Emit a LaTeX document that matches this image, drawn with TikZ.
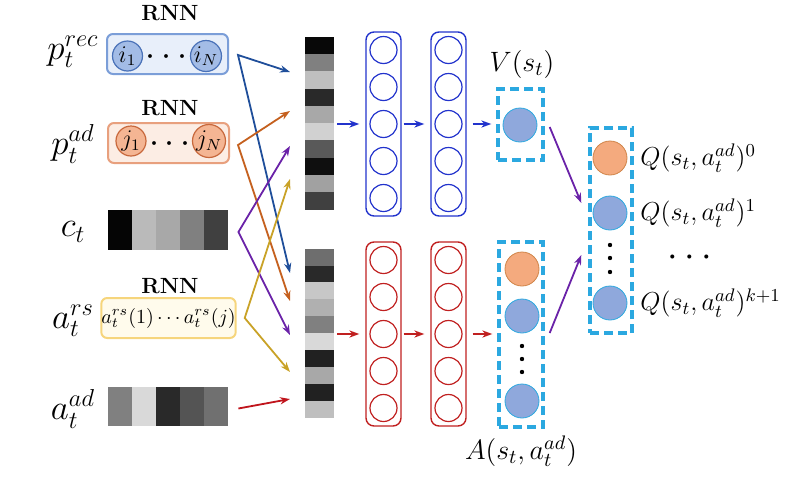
\documentclass[tikz,border=0pt]{standalone}
\usepackage{fix-cm}
\usepackage{xcolor}
\usepackage{tikz}
\usetikzlibrary{calc}
\usetikzlibrary{positioning}
\usetikzlibrary{arrows.meta}
\definecolor{recline}{HTML}{7B9ED8}
\definecolor{recfill}{HTML}{E8EFFA}
\definecolor{recnode}{HTML}{A3BCE6}
\definecolor{recedge}{HTML}{4A72B8}
\definecolor{adline}{HTML}{E8A07E}
\definecolor{adfill}{HTML}{FCEDE4}
\definecolor{adnode}{HTML}{F4B593}
\definecolor{adedge}{HTML}{C8683C}
\definecolor{rsline}{HTML}{F6D57C}
\definecolor{rsfill}{HTML}{FFFBEC}
\definecolor{arrblue}{HTML}{1F4E9A}
\definecolor{arrorange}{HTML}{C5601E}
\definecolor{arrpurple}{HTML}{6A22A8}
\definecolor{arrgold}{HTML}{C9A227}
\definecolor{arrred}{HTML}{C0141C}
\definecolor{netblue}{HTML}{2233CC}
\definecolor{netred}{HTML}{C02020}
\definecolor{dashcyan}{HTML}{2BA8E0}
\definecolor{outblue}{HTML}{8FA8DC}
\definecolor{outorange}{HTML}{F4AA7E}
\definecolor{outedge}{HTML}{D08448}

\begin{document}
\begin{tikzpicture}[x=0.5pt,y=-0.5pt,
    lbl/.style={font=\fontsize{17.5}{20}\selectfont},
    rnn/.style={font=\bfseries\fontsize{11}{13}\selectfont},
    seqbox/.style={draw,rounded corners=3pt,line width=1pt,minimum width=60.5pt,minimum height=20pt,inner sep=0pt},
    unit/.style={circle,draw,line width=0.6pt,minimum size=15pt,inner sep=0pt,font=\fontsize{12}{14}\selectfont},
    bar/.style={inner sep=0pt,minimum width=#1},
    feed/.style={-{Stealth[length=5pt,width=3.6pt]},line width=0.9pt},
    fork/.style={{Stealth[length=5pt,width=3.6pt]}-{Stealth[length=5pt,width=3.6pt]},line width=0.9pt},
    layer/.style={draw,rounded corners=4pt,line width=0.7pt,minimum width=17.5pt,minimum height=92pt},
    neuron/.style={circle,draw,line width=0.6pt,minimum size=13.5pt,inner sep=0pt},
    outbox/.style={draw=dashcyan,line width=1.7pt,dash pattern=on 4.5pt off 2.5pt},
    qval/.style={circle,fill=outblue,draw=dashcyan,line width=0.4pt,minimum size=17pt,inner sep=0pt},
    eq/.style={font=\fontsize{13}{15}\selectfont}]
\useasboundingbox (0,0) rectangle (800,488);

% inputs
\node[lbl] (prec) at (73,52) {$p_t^{rec}$};
\node[lbl] (pad) at (73,144) {$p_t^{ad}$};
\node[lbl] (ct) at (73,232) {$c_t$};
\node[lbl] (ars) at (73,321) {$a_t^{rs}$};
\node[lbl] (aad) at (73,409) {$a_t^{ad}$};

\node[rnn] (rnn1) at (170,13) {RNN};
\node[seqbox,draw=recline,fill=recfill] (recbox) at (167.5,54) {};
\node[unit,draw=recedge,fill=recnode] (i1) at (127.5,56) {$i_1$};
\node[unit,draw=recedge,fill=recnode] (iN) at (206,56) {$i_N$};
\node[font=\fontsize{18}{20}\selectfont] at ($(i1)!0.5!(iN)+(0,1)$) {$\cdots$};

\node[rnn] (rnn2) at (170,108) {RNN};
\node[seqbox,draw=adline,fill=adfill] (padbox) at (168.5,143) {};
\node[unit,draw=adedge,fill=adnode] (j1) at (131,141) {$j_1$};
\node[unit,draw=adedge,fill=adnode] (jN) at (209,141) {$j_N$};
\node[font=\fontsize{18}{20}\selectfont] at ($(j1)!0.5!(jN)+(0,3)$) {$\cdots$};

\node[bar=60pt,minimum height=20pt] (cbar) at (168,230) {};
\foreach \g [count=\k from 0] in {98,27,34,50,75}
  \fill[black!\g] ($(cbar.north west)+(24*\k,0)$) rectangle ++(24,40);

\node[rnn] (rnn3) at (170,286) {RNN};
\node[seqbox,draw=rsline,fill=rsfill] (rsbox) at (168.5,318) {$a_t^{rs}(1)\cdots a_t^{rs}(j)$};

\node[bar=60pt,minimum height=19.5pt] (abar) at (168,406.5) {};
\foreach \g [count=\k from 0] in {50,15,84,67,56}
  \fill[black!\g] ($(abar.north west)+(24*\k,0)$) rectangle ++(24,39);

% embeddings
\node[bar=14.5pt,minimum height=86.5pt] (vbar) at (319.5,123.5) {};
\foreach \g [count=\k from 0] in {97,50,25,84,34,18,65,94,37,75}
  \fill[black!\g] ($(vbar.north west)+(0,17.3*\k)$) rectangle ++(29,17.3);
\node[bar=14.5pt,minimum height=84.5pt] (abarv) at (319.5,333.5) {};
\foreach \g [count=\k from 0] in {57,84,22,31,50,15,87,34,87,25}
  \fill[black!\g] ($(abarv.north west)+(0,16.9*\k)$) rectangle ++(29,16.9);

\coordinate (rec-c) at ($(recbox.east)+(9,1)$);
\coordinate (pad-c) at ($(padbox.east)+(8,2)$);
\coordinate (ct-c) at ($(cbar.east)+(10,2)$);
\coordinate (rs-c) at ($(rsbox.east)+(8,0)$);
\coordinate (aad-c) at ($(abar.east)+(10,2)$);
\foreach \y [count=\k] in {72,111,146,179} \coordinate (vin-\k) at (290,\y);
\foreach \y [count=\k] in {273,301,335,372,399} \coordinate (ain-\k) at (290,\y);

\draw[fork,arrblue] (vin-1) -- (rec-c) -- (ain-1);
\draw[fork,arrorange] (vin-2) -- (pad-c) -- (ain-2);
\draw[fork,arrpurple] (vin-3) -- (ct-c) -- (ain-3);
\draw[fork,arrgold] (vin-4) -- (rs-c) -- (ain-4);
\draw[feed,arrred] (aad-c) -- (ain-5);

% hidden layers
\foreach \n/\x/\y/\c in {hv1/383.5/124/netblue,hv2/448.5/124/netblue,ha1/383.5/334/netred,ha2/448.5/334/netred}{
  \node[layer,draw=\c] (\n) at (\x,\y) {};
  \foreach \i in {1,...,5} \node[neuron,draw=\c] (\n-\i) at (\x,\y+37*\i-111) {};
}

% outputs
\node[outbox,minimum width=22.5pt,minimum height=35.5pt] (vbox) at (520.5,124.5) {};
\node[qval] (v) at (520,125) {};
\node[eq,font=\fontsize{14}{16}\selectfont] (vlab) at (522,64) {$V(s_t)$};

\node[outbox,minimum width=22pt,minimum height=92.5pt] (abox) at (521,334.5) {};
\node[qval,fill=outorange,draw=outedge] (adv-0) at (522,269) {};
\node[qval] (adv-1) at (522,316) {};
\node[qval] (adv-k) at (522,401) {};
\foreach \y in {346,359,372} \fill (522,\y) circle (1.1pt);
\node[eq,font=\fontsize{14}{16}\selectfont,below=0pt of abox] (alab) {$A(s_t,a_t^{ad})$};

\node[outbox,minimum width=21pt,minimum height=102.5pt] (qbox) at (611,230.5) {};
\node[qval,fill=outorange,draw=outedge] (q-0) at (610,158) {};
\node[qval] (q-1) at (610,213) {};
\node[qval] (q-k) at (610,303) {};
\foreach \y in {245,258,272} \fill (610,\y) circle (1.1pt);
\node[eq,right=3pt of q-0] (qlab-0) {$Q(s_t,a_t^{ad})^0$};
\node[eq,right=3pt of q-1] (qlab-1) {$Q(s_t,a_t^{ad})^1$};
\node[eq,right=3pt of q-k] (qlab-k) {$Q(s_t,a_t^{ad})^{k+1}$};
\node[font=\fontsize{19}{20}\selectfont] (qdots) at (690,258) {$\cdots$};

\draw[feed,netblue,line width=1.1pt,shorten <=1.5pt,shorten >=3pt] (vbar.east |- hv1.west) -- (hv1.west);
\draw[feed,netblue,line width=1.1pt,shorten <=1pt,shorten >=3pt] (hv1.east) -- (hv2.west);
\draw[feed,netblue,line width=1.1pt,shorten <=3pt,shorten >=2.5pt] (hv2.east) -- (vbox.west |- hv2.east);
\draw[feed,netred,line width=1.1pt,shorten <=1.5pt,shorten >=3pt] (abarv.east |- ha1.west) -- (ha1.west);
\draw[feed,netred,line width=1.1pt,shorten <=1pt,shorten >=3pt] (ha1.east) -- (ha2.west);
\draw[feed,netred,line width=1.1pt,shorten <=3pt,shorten >=2.5pt] (ha2.east) -- (abox.west |- ha2.east);
\draw[feed,arrpurple] ($(vbox.east)+(5,2.5)$) -- ($(qbox.west)+(-7,-27.5)$);
\draw[feed,arrpurple] ($(abox.east)+(5,-1.5)$) -- ($(qbox.west)+(-7,24.5)$);
\end{tikzpicture}
\end{document}
